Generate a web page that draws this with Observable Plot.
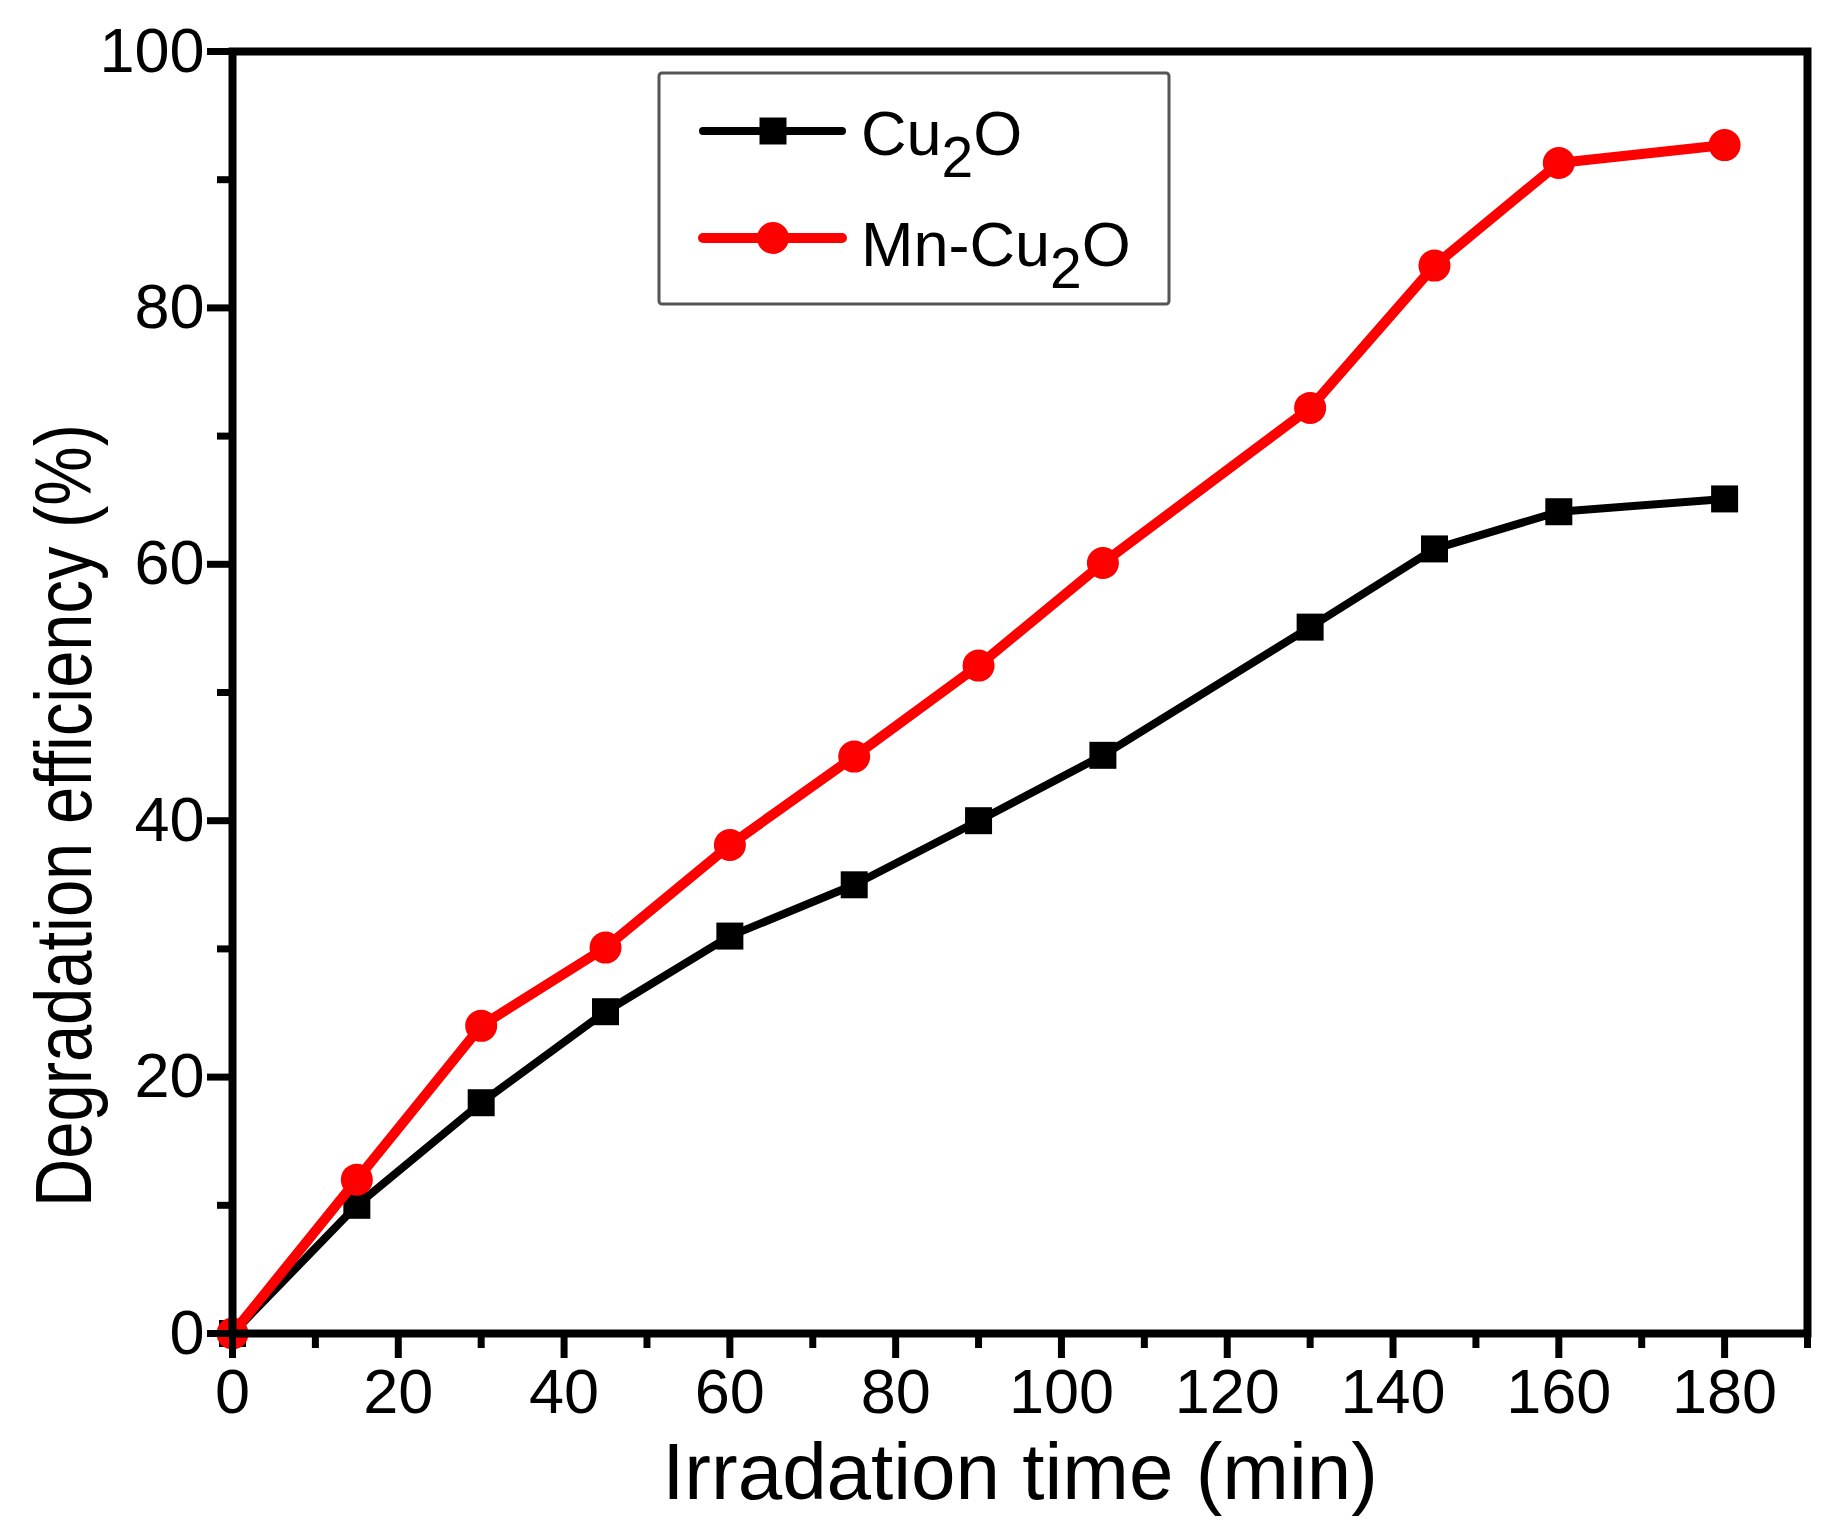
<!DOCTYPE html>
<html>
<head>
<meta charset="utf-8">
<script src="https://cdn.jsdelivr.net/npm/d3@7"></script>
<script src="https://cdn.jsdelivr.net/npm/@observablehq/plot@0.6"></script>
<style>
  html, body { margin: 0; padding: 0; background: #fff; }
  svg { display: block; }
</style>
</head>
<body>
<div id="chart"></div>
<script>
// ---- data ----
const time = [0, 15, 30, 45, 60, 75, 90, 105, 130, 145, 160, 180];
const cu2o = [0, 10, 18, 25.1, 31, 35, 40, 45.1, 55.1, 61.2, 64.1, 65.1];
const mnCu2o = [0, 12, 24, 30.1, 38.1, 45, 52.1, 60.1, 72.2, 83.3, 91.3, 92.7];
const seriesNames = ["Cu2O", "Mn-Cu2O"];
const xMajorTicks = [0, 20, 40, 60, 80, 100, 120, 140, 160, 180];
const xMinorTicks = [10, 30, 50, 70, 90, 110, 130, 150, 170, 190];
const yMajorTicks = [0, 20, 40, 60, 80, 100];
const yMinorTicks = [10, 30, 50, 70, 90];
const xTitle = "Irradation time (min)";
const yTitle = "Degradation efficiency (%)";

const cuRows = time.map((t, i) => ({time: t, value: cu2o[i], series: seriesNames[0]}));
const mnRows = time.map((t, i) => ({time: t, value: mnCu2o[i], series: seriesNames[1]}));

const FONT = "'Liberation Sans', Arial, Helvetica, sans-serif";
const SQUARE_R = Math.sqrt(27 * 27 / Math.PI);

const plot = Plot.plot({
  width: 1836,
  height: 1538,
  marginLeft: 232,
  marginRight: 29,
  marginTop: 51,
  marginBottom: 205,
  style: {fontFamily: FONT, color: "black", background: "white", overflow: "visible"},
  x: {domain: [0, 190]},
  y: {domain: [0, 100]},
  marks: [
    Plot.lineY(cuRows, {x: "time", y: "value", stroke: "black", strokeWidth: 8, strokeLinejoin: "round"}),
    Plot.dot(cuRows, {x: "time", y: "value", symbol: "square", r: SQUARE_R, fill: "black", stroke: "none"}),
    Plot.lineY(mnRows, {x: "time", y: "value", stroke: "#ff0000", strokeWidth: 10, strokeLinejoin: "round"}),
    Plot.dot(mnRows, {x: "time", y: "value", symbol: "circle", r: 16, fill: "#ff0000", stroke: "none"}),
    Plot.frame({stroke: "black", strokeWidth: 8}),
    Plot.axisX({ticks: xMajorTicks, tickSize: 25, tickPadding: 10, fontSize: 63, strokeWidth: 7, label: null, tickFormat: d => String(d)}),
    Plot.axisX({ticks: xMinorTicks, tickSize: 15, strokeWidth: 7, label: null, tickFormat: () => ""}),
    Plot.axisY({ticks: yMajorTicks, tickSize: 25, tickPadding: 3, fontSize: 63, strokeWidth: 7, label: null, tickFormat: d => String(d)}),
    Plot.axisY({ticks: yMinorTicks, tickSize: 15, strokeWidth: 7, label: null, tickFormat: () => ""}),
    Plot.text([xTitle], {text: d => d, frameAnchor: "bottom", dy: 140, fontSize: 80, lineAnchor: "middle", textAnchor: "middle", fill: "black"}),
    Plot.text([yTitle], {text: d => d, frameAnchor: "left", dx: -167, dy: 123, rotate: -90, fontSize: 79, lineAnchor: "middle", textAnchor: "middle", fill: "black"})
  ]
});

const svg = d3.select(plot);
// the reference's y title is set in a slightly condensed face
svg.selectAll("text").filter(function () { return this.textContent === yTitle; })
  .attr("textLength", 783).attr("lengthAdjust", "spacingAndGlyphs");

// ---- legend ----
const lg = svg.append("g").attr("font-family", FONT).attr("text-anchor", "start");
lg.append("rect")
  .attr("x", 659).attr("y", 73).attr("width", 510).attr("height", 231)
  .attr("fill", "white").attr("stroke", "#555").attr("stroke-width", 3).attr("rx", 3);

const legendItems = [
  {parts: ["Cu", "2", "O"], color: "black", width: 8, symbol: d3.symbolSquare, size: 27 * 27, lineY: 131, baseY: 155},
  {parts: ["Mn-Cu", "2", "O"], color: "#ff0000", width: 10, symbol: d3.symbolCircle, size: Math.PI * 16 * 16, lineY: 238, baseY: 266}
];
legendItems.forEach(it => {
  lg.append("line").attr("x1", 703).attr("x2", 842).attr("y1", it.lineY).attr("y2", it.lineY)
    .attr("stroke", it.color).attr("stroke-width", it.width).attr("stroke-linecap", "round");
  lg.append("path").attr("d", d3.symbol(it.symbol, it.size)())
    .attr("transform", `translate(773,${it.lineY})`).attr("fill", it.color);
  const t = lg.append("text").attr("x", 861).attr("y", it.baseY).attr("font-size", 63)
    .attr("fill", "black").attr("text-anchor", "start");
  t.append("tspan").text(it.parts[0]);
  t.append("tspan").attr("dy", 22).attr("font-size", 57).text(it.parts[1]);
  t.append("tspan").attr("dy", -22).text(it.parts[2]);
});

document.getElementById("chart").appendChild(plot);
</script>
</body>
</html>
